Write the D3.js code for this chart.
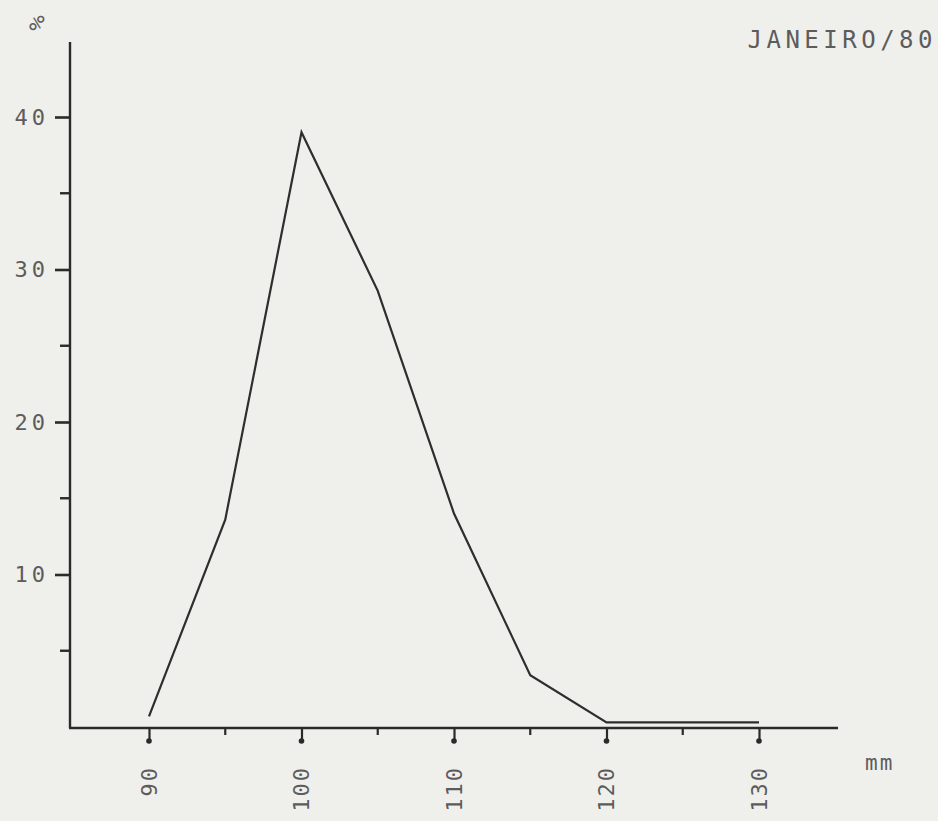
<!DOCTYPE html>
<html>
<head>
<meta charset="utf-8">
<script src="https://cdn.jsdelivr.net/npm/d3@7"></script>
<style>
  html, body { margin: 0; padding: 0; background: #efefec; }
  svg { display: block; }
  text { font-family: "DejaVu Sans Mono", monospace; fill: #5c5c5c; }
</style>
</head>
<body>
<svg id="chart" width="938" height="821"></svg>
<script>
// Data
const sizes = [90, 95, 100, 105, 110, 115, 120, 125, 130];          // mm
const percents = [0.7, 13.6, 39.0, 28.6, 14.0, 3.4, 0.3, 0.3, 0.3]; // %
const xMajorTicks = [90, 100, 110, 120, 130];
const xMinorTicks = [95, 105, 115, 125];
const yMajorTicks = [10, 20, 30, 40];
const yMinorTicks = [5, 15, 25, 35];
const title = "JANEIRO/80";
const yUnit = "%";
const xUnit = "mm";

const svg = d3.select("#chart");
const x = d3.scaleLinear().domain([90, 130]).range([149, 759]);
const y = d3.scaleLinear().domain([0, 40]).range([727, 117]);

const ink = "#2a2a2a";
const ax = 70;

// Y axis
const yAxisG = svg.append("g").attr("transform", `translate(${ax},0)`);
yAxisG.append("line").attr("x1", 0).attr("x2", 0).attr("y1", 42).attr("y2", y(0) + 1)
  .attr("stroke", ink).attr("stroke-width", 2.4);
yAxisG.call(d3.axisLeft(y).tickValues(yMajorTicks).tickSize(15).tickPadding(10)
  .tickFormat(d3.format("d")))
  .call(g => g.select(".domain").remove())
  .call(g => g.selectAll(".tick line").attr("stroke", ink).attr("stroke-width", 2.6))
  .call(g => g.selectAll(".tick text").attr("font-size", 22).attr("letter-spacing", 4)
     .attr("fill", "#5c5c5c").attr("font-family", "DejaVu Sans Mono, monospace")
     .attr("dx", 4));
yAxisG.selectAll(".minor").data(yMinorTicks).enter().append("line")
  .attr("x1", -10).attr("x2", 0).attr("y1", d => y(d)).attr("y2", d => y(d))
  .attr("stroke", ink).attr("stroke-width", 2.4);

// X axis
const base = y(0) + 1;
svg.append("line").attr("x1", ax - 1).attr("x2", 838).attr("y1", base).attr("y2", base)
  .attr("stroke", ink).attr("stroke-width", 2.6);
const xAxisG = svg.append("g").attr("transform", `translate(0,${base})`);
xAxisG.call(d3.axisBottom(x).tickValues(xMajorTicks).tickSize(13).tickFormat(() => ""))
  .call(g => g.select(".domain").remove())
  .call(g => g.selectAll(".tick line").attr("stroke", ink).attr("stroke-width", 2.2));
xAxisG.selectAll(".dot").data(xMajorTicks).enter().append("circle")
  .attr("cx", d => x(d)).attr("cy", 13).attr("r", 2.8).attr("fill", ink);
xAxisG.selectAll(".minor").data(xMinorTicks).enter().append("line")
  .attr("x1", d => x(d)).attr("x2", d => x(d)).attr("y1", 0).attr("y2", 7)
  .attr("stroke", ink).attr("stroke-width", 2.2);
svg.selectAll(".xlabel").data(xMajorTicks).enter().append("text")
  .attr("transform", d => `translate(${x(d)},766) rotate(-90)`)
  .attr("text-anchor", "end").attr("dy", "0.36em")
  .attr("font-size", 22).attr("letter-spacing", 2)
  .text(d => d);

// Unit labels & title
svg.append("text").attr("x", 0).attr("y", 0).attr("font-size", 23)
  .attr("text-anchor", "middle").attr("dy", "0.36em")
  .attr("transform", "translate(37,23) rotate(80)").text(yUnit);
svg.append("text").attr("x", 865).attr("y", 770).attr("font-size", 21)
  .attr("letter-spacing", 2).text(xUnit);
svg.append("text").attr("x", 937).attr("y", 48).attr("text-anchor", "end")
  .attr("font-size", 24).attr("letter-spacing", 4.5).text(title);

// Data line
const line = d3.line().x((d, i) => x(sizes[i])).y(d => y(d));
svg.append("path").datum(percents).attr("d", line)
  .attr("fill", "none").attr("stroke", "#2e2e2e").attr("stroke-width", 2.2)
  .attr("stroke-linejoin", "miter");
</script>
</body>
</html>
